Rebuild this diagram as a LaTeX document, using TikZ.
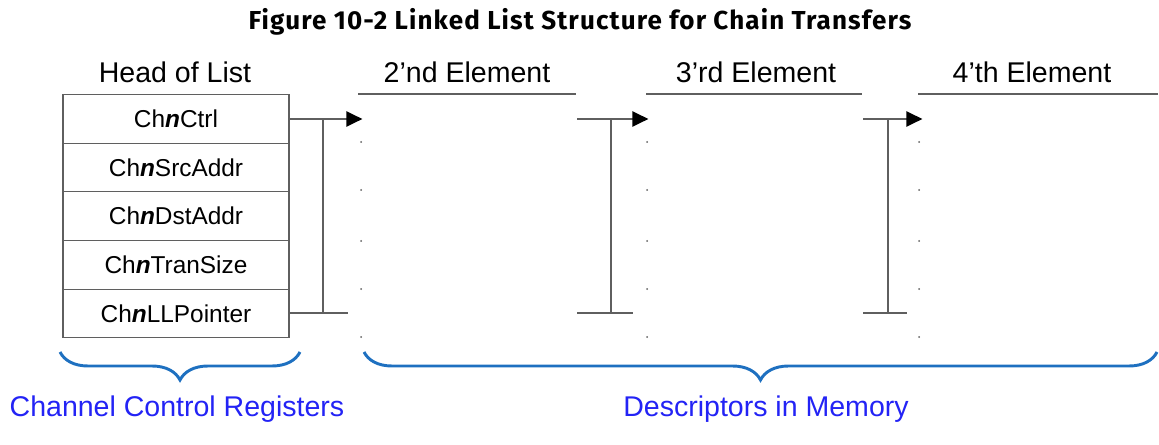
\documentclass[tikz,border=0pt]{standalone}
\usepackage{fontspec}
\setmainfont{Liberation Sans}
\newfontfamily\titlefont[LetterSpace=4.4]{Fira Sans}
\usetikzlibrary{arrows.meta, positioning, decorations.pathreplacing, calc}
\definecolor{linegray}{RGB}{95,95,95}
\definecolor{bracecol}{RGB}{30,112,192}
\definecolor{labelblue}{RGB}{35,35,245}
\tikzset{
  reg/.style={
    draw=linegray,
    line width=0.9pt,
    rectangle,
    outer sep=0pt,
    inner sep=0pt,
    minimum width=169.5pt,
    minimum height=36.45pt,
    font=\fontsize{18.3}{20}\selectfont,
  },
  heading/.style={
    inner sep=0pt,
    font=\fontsize{21.4}{24}\selectfont,
  },
  link/.style={
    draw=linegray,
    line width=1.4pt
  },
  arrow/.style={
    link,
    -{Triangle[length=12pt,width=11.5pt,black]},
    shorten >=-1pt
  },
  bracket/.style={
    decorate,
    decoration={brace, mirror, amplitude=21pt},
    draw=bracecol,
    line width=2.2pt
  },
  bluelabel/.style={
    inner sep=0pt,
    text=labelblue,
    font=\fontsize{21.4}{24}\selectfont
  }
}
\newcommand{\chn}[1]{Ch\textbf{\textit{n}}#1}

\begin{document}
\begin{tikzpicture}[x=0.75pt, y=-0.75pt]
  \useasboundingbox (0,0) rectangle (1159,445);

  % Titre
  \node[font=\titlefont\bfseries\fontsize{19.5}{22}\selectfont] (title) at (580,22) {Figure 10-2 Linked List Structure for Chain Transfers};

  % Registres
  \node[heading] (head) at (175,72) {Head of List};
  \node[reg] (ctrl) at (176,119) {\chn{Ctrl}};
  \node[reg, below=0pt of ctrl] (src) {\chn{SrcAddr}};
  \node[reg, below=0pt of src] (dst) {\chn{DstAddr}};
  \node[reg, below=0pt of dst] (size) {\chn{TranSize}};
  \node[reg, below=0pt of size] (ptr) {\chn{LLPointer}};

  % Descripteurs
  \node[heading] (hd2) at (467,72) {2'nd Element};
  \node[heading] (hd3) at (756,72) {3'rd Element};
  \node[heading] (hd4) at (1032,72) {4'th Element};
  \coordinate (e2w) at (358,94);
  \coordinate (e2e) at (576,94);
  \coordinate (e3w) at (646,94);
  \coordinate (e3e) at (862,94);
  \coordinate (e4w) at (918,94);
  \coordinate (e4e) at (1158,94);
  \draw[link] (e2w) -- (e2e);
  \draw[link] (e3w) -- (e3e);
  \draw[link] (e4w) -- (e4e);
  \foreach \x in {361,647,919}
    \foreach \y in {142,190,241,289,337}
      \fill[linegray] (\x,\y) circle (0.75pt);

  % Liens
  \coordinate (in2) at (361,119);
  \coordinate (in3) at (647,119);
  \coordinate (in4) at (921,119);
  \coordinate (out2) at (577,119);
  \coordinate (out3) at (863,119);
  \coordinate (ptr2) at (577,313);
  \coordinate (ptr3) at (863,313);

  \draw[arrow] (ctrl.east) -- (in2);
  \draw[link] (ptr.east) -- ++(59,0);
  \draw[link] (ctrl.east -| 323,0) -- (ptr.east -| 323,0);

  \draw[arrow] (out2) -- (in3);
  \draw[link] (ptr2) -- ++(56,0);
  \draw[link] ($(out2)+(34,0)$) -- ($(ptr2)+(34,0)$);

  \draw[arrow] (out3) -- (in4);
  \draw[link] (ptr3) -- ++(44,0);
  \draw[link] ($(out3)+(25,0)$) -- ($(ptr3)+(25,0)$);

  % Accolades
  \draw[bracket] (60,352) -- (300,352);
  \draw[bracket] (364,352) -- (1157,352);
  \node[bluelabel] (ccr) at (177,409) {Channel Control Registers};
  \node[bluelabel] (dim) at (766,409) {Descriptors in Memory};
\end{tikzpicture}
\end{document}
